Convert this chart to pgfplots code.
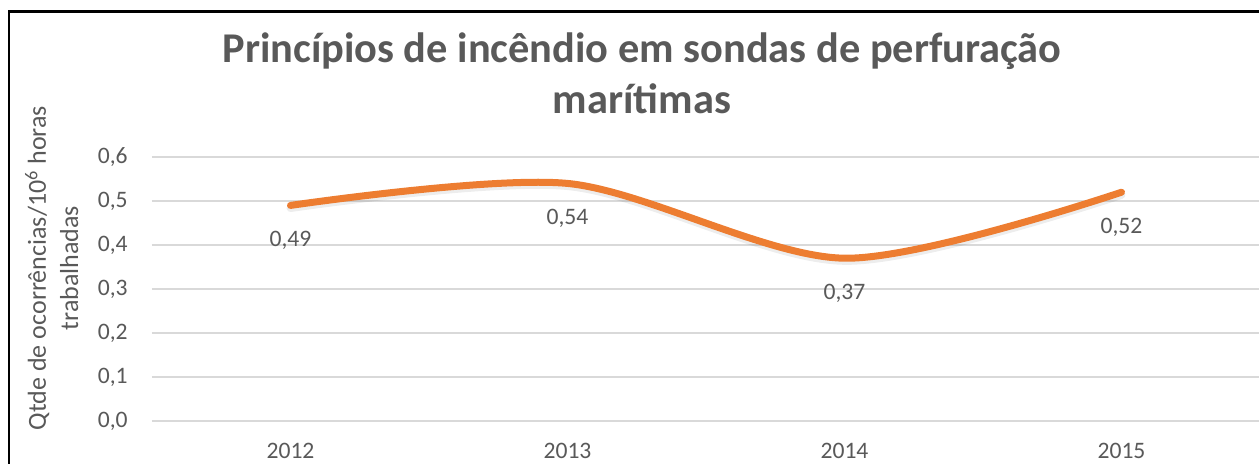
\documentclass[border=0pt]{standalone}
\usepackage{pgfplots}
\usepackage{pgfplotstable}
\pgfplotsset{compat=1.18}
\usepackage{fontspec}
\setmainfont{Carlito}
\definecolor{txt}{HTML}{595959}
\definecolor{gridc}{HTML}{D9D9D9}
\definecolor{org}{HTML}{ED7D31}
\pgfplotstableread{
x y lab
0 0.49 0,49
1 0.54 0,54
2 0.37 0,37
3 0.52 0,52
}\data
\begin{document}
\begin{tikzpicture}
\useasboundingbox (0,0) rectangle (629.5pt,231.5pt);
\draw[black, line width=1.3pt] (4.5pt,-2pt) -- (4.5pt,225.8pt) -- (640pt,225.8pt);
\begin{axis}[
  at={(76pt,21pt)}, anchor=south west, scale only axis,
  width=554pt, height=132pt,
  xmin=-0.5, xmax=3.5, ymin=0, ymax=0.6,
  axis line style={draw=none},
  major tick length=0pt, tick style={draw=none},
  ymajorgrids, grid style={gridc, line width=0.75pt},
  ytick={0,0.1,0.2,0.3,0.4,0.5,0.6},
  xtick={0,1,2,3}, xticklabels={2012,2013,2014,2015},
  yticklabel style={/pgf/number format/fixed, /pgf/number format/fixed zerofill, /pgf/number format/precision=1, /pgf/number format/use comma, /pgf/number format/assume math mode=true, anchor=east, inner sep=0pt, xshift=-12pt},
  xticklabel style={anchor=north, inner sep=0pt, yshift=-11pt},
  tick label style={font=\fontsize{11.8pt}{14pt}\selectfont, text=txt},
  clip=false,
]
\addplot[smooth, line width=4pt, black, opacity=0.07, line cap=round, transform canvas={yshift=-1.3pt}] table[x=x,y=y]{\data};
\addplot[smooth, line width=3.5pt, org, line cap=round,
  nodes near coords, point meta=explicit symbolic,
  every node near coord/.append style={anchor=center, yshift=-17.5pt, text=txt, font=\fontsize{11.8pt}{14pt}\selectfont}]
  table[x=x,y=y,meta=lab]{\data};
\end{axis}
\node[anchor=base, text=txt, font=\fontsize{21.2pt}{25pt}\selectfont\bfseries] at (321pt,200.5pt) {Princípios de incêndio em sondas de perfuração};
\node[anchor=base, text=txt, font=\fontsize{21.2pt}{25pt}\selectfont\bfseries] at (321pt,175pt) {marítimas};
\node[anchor=base, rotate=90, text=txt, font=\fontsize{13pt}{15pt}\selectfont] at (23pt,97.5pt) {Qtde de ocorrências/10\textsuperscript{6} horas};
\node[anchor=base, rotate=90, text=txt, font=\fontsize{13pt}{15pt}\selectfont] at (39pt,97.5pt) {trabalhadas};
\end{tikzpicture}
\end{document}
